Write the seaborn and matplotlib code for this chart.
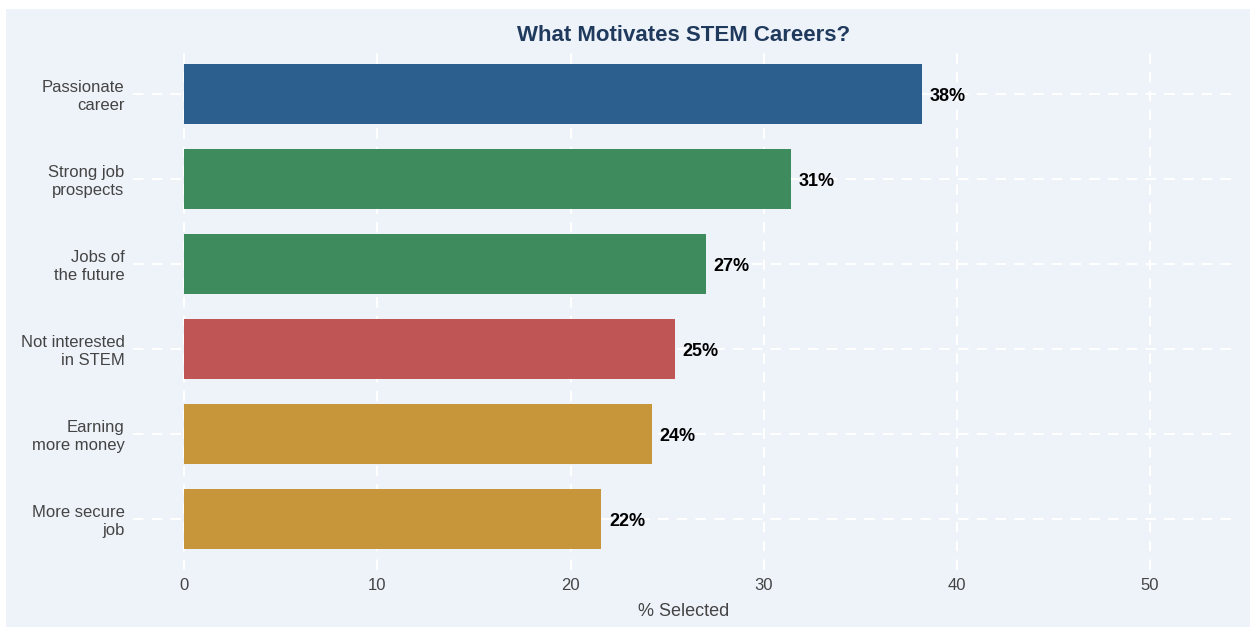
import matplotlib
matplotlib.use('Agg')
import matplotlib.pyplot as plt
import seaborn as sns
import pandas as pd
from matplotlib.patches import Rectangle

# Data
categories = ['Passionate\ncareer', 'Strong job\nprospects', 'Jobs of\nthe future',
              'Not interested\nin STEM', 'Earning\nmore money', 'More secure\njob']
values = [38.2, 31.4, 27.0, 25.4, 24.2, 21.6]
labels = ['38%', '31%', '27%', '25%', '24%', '22%']
colors = ['#2C5F8D', '#3E8B5E', '#3E8B5E', '#C05555', '#C8963A', '#C8963A']
x_ticks = [0, 10, 20, 30, 40, 50]

df = pd.DataFrame({'category': categories, 'value': values})

bg = '#EEF3FA'
sns.set_theme(style='white')
plt.rcParams['font.family'] = ['Liberation Sans', 'DejaVu Sans']

W, H = 1250, 627
fig = plt.figure(figsize=(12.5, 6.27), dpi=100, facecolor='white')
fig.add_artist(Rectangle((6 / W, 0), 1 - 6 / W, 1 - 9 / H, transform=fig.transFigure,
                         facecolor=bg, edgecolor='none', zorder=-10))

ax = fig.add_axes([133 / W, 1 - 570 / H, (1235 - 133) / W, (570 - 47) / H])
ax.set_facecolor(bg)

sns.barplot(data=df, x='value', y='category', hue='category', palette=colors,
            legend=False, width=0.7, saturation=1, linewidth=0, ax=ax, zorder=3)

ax.set_xlim(-2.65, 54.4)
ax.set_ylim(5.6, -0.55)
ax.set_xticks(x_ticks)
ax.grid(True, color='white', linestyle=(0, (5, 4)), linewidth=1.5, zorder=0)
ax.set_axisbelow(True)
for s in ax.spines.values():
    s.set_visible(False)
ax.tick_params(axis='both', length=0, labelsize=12, colors='#444444', pad=6)
ax.tick_params(axis='x', pad=6)

for i, (v, lab) in enumerate(zip(values, labels)):
    ax.text(v + 0.4, i + 0.03, lab, va='center', ha='left', fontsize=13,
            fontweight='bold', color='black', zorder=4)

ax.set_ylabel('')
ax.set_xlabel('% Selected', fontsize=13, color='#444444', labelpad=7)
ax.set_title('What Motivates STEM Careers?', fontsize=16, fontweight='bold',
             color='#1F3A5C', pad=4)

fig.savefig('out.png', dpi=100, facecolor='white')
